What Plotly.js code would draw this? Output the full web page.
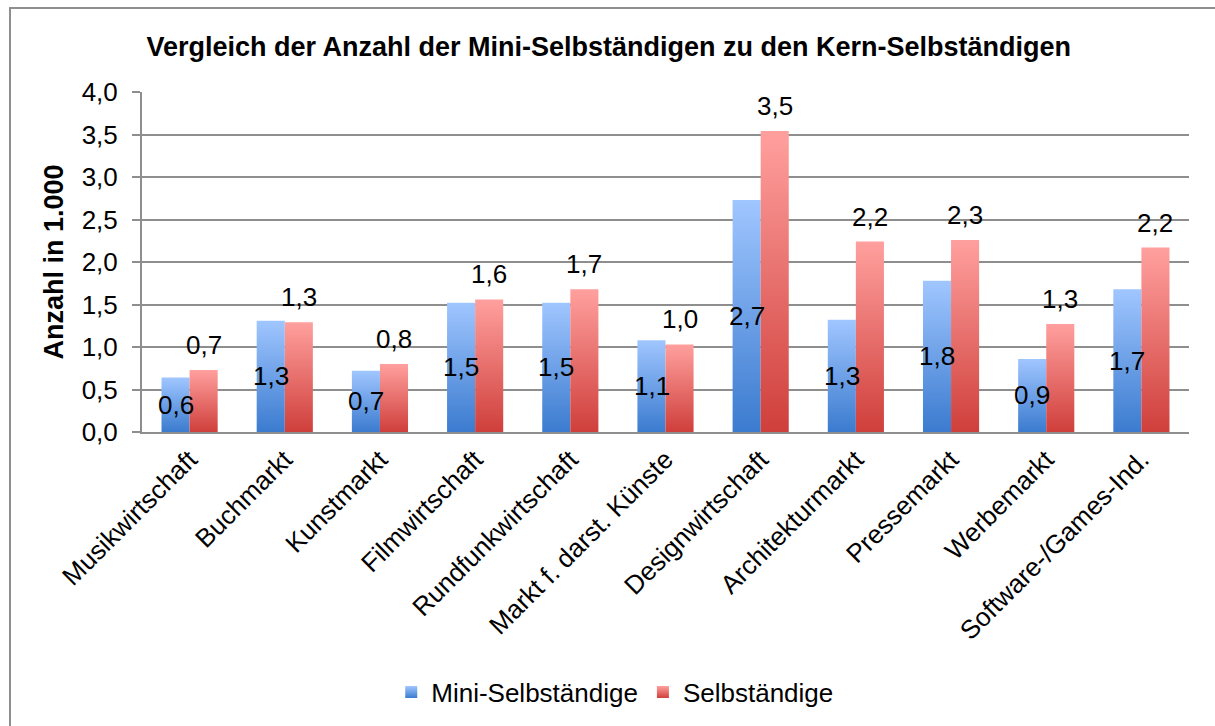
<!DOCTYPE html>
<html>
<head>
<meta charset="utf-8">
<script src="https://cdn.plot.ly/plotly-3.0.1.min.js"></script>
<style>
  html, body { margin: 0; padding: 0; background: #ffffff; }
  #wrap { position: relative; width: 1215px; height: 726px; overflow: hidden; }
  #frame { position: absolute; left: 9px; top: 7px; width: 1400px; height: 900px;
           border-left: 2px solid #8e8e8e; border-top: 2px solid #8e8e8e; pointer-events: none; }
  #chart { position: absolute; left: 0; top: 0; width: 1215px; height: 726px; }
</style>
</head>
<body>
<div id="wrap">
  <div id="chart"></div>
  <div id="frame"></div>
</div>
<script>
// ---- data ----
const categories = [
  "Musikwirtschaft", "Buchmarkt", "Kunstmarkt", "Filmwirtschaft", "Rundfunkwirtschaft",
  "Markt f. darst. Künste", "Designwirtschaft", "Architekturmarkt", "Pressemarkt",
  "Werbemarkt", "Software-/Games-Ind."
];
const miniSelbstaendige = [0.64, 1.31, 0.72, 1.52, 1.52, 1.08, 2.73, 1.32, 1.78, 0.86, 1.68];
const selbstaendige     = [0.73, 1.29, 0.80, 1.56, 1.68, 1.03, 3.54, 2.24, 2.26, 1.27, 2.17];
const seriesNames = ["Mini-Selbständige", "Selbständige"];
const yTickValues = [0, 0.5, 1, 1.5, 2, 2.5, 3, 3.5, 4];

const FONT = "Liberation Sans, Arial, Helvetica, sans-serif";
const GRID = "#8e8e8e";
const FS = 26;

function fmt(v) { return v.toFixed(1).replace(".", ","); }

const traces = [
  {
    type: "bar", name: seriesNames[0], x: categories, y: miniSelbstaendige,
    marker: { color: "#6b9ee6" }, textposition: "none", hoverinfo: "x+y"
  },
  {
    type: "bar", name: seriesNames[1], x: categories, y: selbstaendige,
    marker: { color: "#e86e6c" }, textposition: "none", hoverinfo: "x+y"
  }
];

// value labels: centred in the "Mini" bars, above the "Selbständige" bars
const miniLabels = categories.map(function (c, i) {
  return {
    x: c, y: miniSelbstaendige[i] / 2, xref: "x", yref: "y",
    text: fmt(miniSelbstaendige[i]), showarrow: false,
    xanchor: "center", yanchor: "middle", xshift: -14,
    font: { family: FONT, size: FS, color: "#000000" }
  };
});
const selbLabels = categories.map(function (c, i) {
  return {
    x: c, y: selbstaendige[i], xref: "x", yref: "y",
    text: fmt(selbstaendige[i]), showarrow: false,
    xanchor: "center", yanchor: "bottom", xshift: 14, yshift: 8,
    font: { family: FONT, size: FS, color: "#000000" }
  };
});

const layout = {
  width: 1215, height: 726,
  paper_bgcolor: "rgba(0,0,0,0)", plot_bgcolor: "rgba(0,0,0,0)",
  separators: ",.",
  margin: { l: 142, r: 26, t: 92, b: 294, autoexpand: false },
  font: { family: FONT, size: FS, color: "#000000" },
  title: {
    text: "<b>Vergleich der Anzahl der Mini-Selbständigen zu den Kern-Selbständigen</b>",
    font: { family: FONT, size: 27, color: "#000000" },
    x: 0.501, xanchor: "center", y: 1 - 47 / 726, yanchor: "middle"
  },
  barmode: "group", bargap: 0.41, bargroupgap: 0,
  xaxis: {
    type: "category", tickangle: -45, showgrid: false,
    showline: true, linecolor: GRID, linewidth: 2,
    ticks: "", tickfont: { family: FONT, size: FS, color: "#000000" },
    automargin: false, fixedrange: true
  },
  yaxis: {
    range: [0, 4], tickvals: yTickValues, tickformat: ".1f",
    showgrid: true, gridcolor: GRID, gridwidth: 2,
    showline: true, linecolor: GRID, linewidth: 2,
    ticks: "outside", ticklen: 8, tickcolor: GRID, tickwidth: 2,
    ticklabelstandoff: 9,
    zeroline: false,
    tickfont: { family: FONT, size: FS, color: "#000000" },
    title: { text: "<b>Anzahl in 1.000</b>", font: { family: FONT, size: 27, color: "#000000" }, standoff: 10 },
    automargin: false, fixedrange: true
  },
  annotations: miniLabels.concat(selbLabels),
  legend: {
    orientation: "h", x: 0.452, xanchor: "center", y: -0.765, yanchor: "middle",
    font: { family: FONT, size: 26, color: "#000000" },
    itemwidth: 30, tracegroupgap: 0
  },
  showlegend: true
};

Plotly.newPlot("chart", traces, layout, { displayModeBar: false, staticPlot: true }).then(function (gd) {
  // vertical colour gradients on the bars, as in the original
  const svg = gd.querySelector("svg.main-svg");
  const ns = "http://www.w3.org/2000/svg";
  let defs = svg.querySelector("defs");
  if (!defs) { defs = document.createElementNS(ns, "defs"); svg.insertBefore(defs, svg.firstChild); }
  function grad(id, top, bottom) {
    const g = document.createElementNS(ns, "linearGradient");
    g.setAttribute("id", id);
    g.setAttribute("x1", "0"); g.setAttribute("y1", "0");
    g.setAttribute("x2", "0"); g.setAttribute("y2", "1");
    [[0, top], [1, bottom]].forEach(function (s) {
      const st = document.createElementNS(ns, "stop");
      st.setAttribute("offset", s[0]);
      st.setAttribute("stop-color", s[1]);
      g.appendChild(st);
    });
    defs.appendChild(g);
  }
  grad("gBlue", "#a0c6ff", "#3b7bcf");
  grad("gRed", "#ffa09e", "#cf3f3b");
  const ids = ["gBlue", "gRed"];
  gd.querySelectorAll(".barlayer .trace.bars").forEach(function (tr, i) {
    tr.querySelectorAll(".point path").forEach(function (p) { p.style.fill = "url(#" + ids[i] + ")"; });
  });
  gd.querySelectorAll(".legend .traces").forEach(function (tr, i) {
    tr.querySelectorAll(".legendpoints path").forEach(function (p) { p.style.fill = "url(#" + ids[i] + ")"; p.style.stroke = "none"; });
  });
});
</script>
</body>
</html>
